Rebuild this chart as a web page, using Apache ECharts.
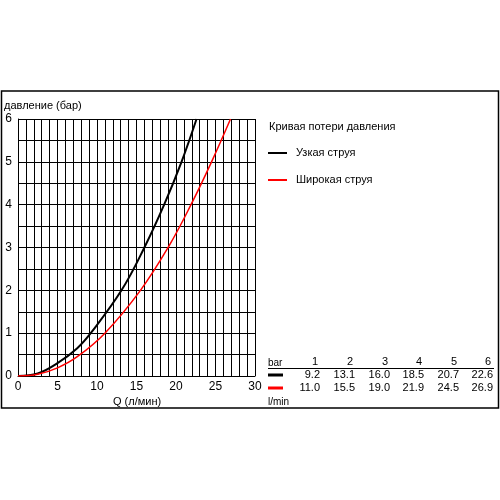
<!DOCTYPE html>
<html><head><meta charset="utf-8">
<script src="https://cdn.jsdelivr.net/npm/echarts@6/dist/echarts.min.js"></script>
<style>html,body{margin:0;padding:0;background:#fff}#c{width:500px;height:500px}</style>
</head><body><div id="c"></div>
<script>
var yAxisTitle = 'давление (бар)';
var xAxisTitle = 'Q (л/мин)';
var legendTitle = 'Кривая потери давления';
var seriesNames = ['Узкая струя', 'Широкая струя'];
var seriesColors = ['#000000', '#ff0000'];
var narrowFlow = [0, 2.5, 5, 7.5, 9.2, 13.1, 16.0, 18.5, 20.7, 22.6];
var narrowPressure = [0, 0.06, 0.3, 0.65, 1, 2, 3, 4, 5, 6];
var wideFlow = [0, 2.5, 5, 7.5, 11.0, 15.5, 19.0, 21.9, 24.5, 26.9];
var widePressure = [0, 0.04, 0.19, 0.45, 1, 2, 3, 4, 5, 6];
var tableBar = ['1', '2', '3', '4', '5', '6'];
var tableNarrow = ['9.2', '13.1', '16.0', '18.5', '20.7', '22.6'];
var tableWide = ['11.0', '15.5', '19.0', '21.9', '24.5', '26.9'];
var tableHeader = 'bar';
var tableUnit = 'l/min';

var font = '"Liberation Sans", Arial, sans-serif';
function pairs(xs, ys){ return xs.map(function(x,i){return [x, ys[i]];}); }

var graphics = [
  {type:'rect', shape:{x:1.5,y:91,width:497,height:317}, style:{fill:null,stroke:'#000',lineWidth:1.5}, z:-1},
  {type:'text', left:4, top:100, style:{text:yAxisTitle, font:'11px '+font, fill:'#000'}},
  {type:'text', left:113, top:396, style:{text:xAxisTitle, font:'11px '+font, fill:'#000'}},
  {type:'text', left:269, top:121, style:{text:legendTitle, font:'11px '+font, fill:'#000'}}
];
seriesNames.forEach(function(n,i){
  var y = 153 + i*27;
  graphics.push({type:'line', shape:{x1:268,y1:y,x2:287,y2:y}, style:{stroke:seriesColors[i],lineWidth:2}});
  graphics.push({type:'text', x:296, y:y, style:{text:n, font:'11px '+font, fill:'#000', textVerticalAlign:'middle'}});
});
var colX = [320, 355, 390, 424, 459, 493];
graphics.push({type:'text', x:268, y:363, style:{text:tableHeader, font:'10px '+font, fill:'#000', textVerticalAlign:'middle'}});
graphics.push({type:'line', shape:{x1:268,y1:368.5,x2:494,y2:368.5}, style:{stroke:'#000',lineWidth:1}});
graphics.push({type:'text', x:268, y:402, style:{text:tableUnit, font:'10px '+font, fill:'#000', textVerticalAlign:'middle'}});
[tableBar, tableNarrow, tableWide].forEach(function(row, r){
  var y = [362, 375, 388][r];
  row.forEach(function(t, i){
    graphics.push({type:'text', x:colX[i] - (r===0?2:0), y:y, style:{text:t, font:'11px '+font, fill:'#000', textAlign:'right', textVerticalAlign:'middle'}});
  });
});
graphics.push({type:'line', shape:{x1:268,y1:375,x2:283,y2:375}, style:{stroke:seriesColors[0],lineWidth:3}});
graphics.push({type:'line', shape:{x1:268,y1:388,x2:283,y2:388}, style:{stroke:seriesColors[1],lineWidth:3}});

var chart = echarts.init(document.getElementById('c'));
chart.setOption({
  animation:false,
  backgroundColor:'#fff',
  grid:{left:18, right:245, top:119, bottom:124, containLabel:false},
  xAxis:{type:'value', min:0, max:30, interval:1,
    axisLine:{lineStyle:{color:'#000',width:1}}, axisTick:{show:false},
    axisLabel:{color:'#000', fontSize:12, fontFamily:font, margin:5, showMinLabel:true, showMaxLabel:true,
      formatter:function(v){return v%5===0 ? String(v) : '';}},
    splitLine:{show:true, lineStyle:{color:'#000',width:1}}},
  yAxis:{type:'value', min:0, max:6, interval:0.5,
    axisLine:{lineStyle:{color:'#000',width:1}}, axisTick:{show:false},
    axisLabel:{color:'#000', fontSize:12, fontFamily:font, margin:6,
      formatter:function(v){return Math.abs(v-Math.round(v))<1e-9 ? String(Math.round(v)) : '';}},
    splitLine:{show:true, lineStyle:{color:'#000',width:1}}},
  series:[
    {name:seriesNames[0], type:'line', smooth:0.4, showSymbol:false, data:pairs(narrowFlow, narrowPressure),
      lineStyle:{color:seriesColors[0], width:2}, z:3},
    {name:seriesNames[1], type:'line', smooth:0.4, showSymbol:false, data:pairs(wideFlow, widePressure),
      lineStyle:{color:seriesColors[1], width:1.5}, z:3}
  ],
  graphic:graphics
});
</script></body></html>
